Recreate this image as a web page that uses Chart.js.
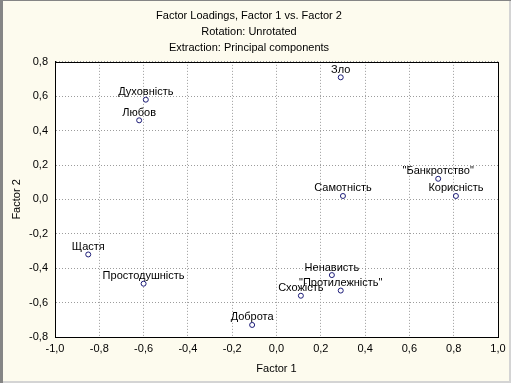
<!DOCTYPE html>
<html>
<head>
<meta charset="utf-8">
<script src="https://cdn.jsdelivr.net/npm/chart.js@4"></script>
<style>
    html, body { margin: 0; padding: 0; background: #fdfbee; }
    #wrap {
        position: relative;
        width: 511px;
        height: 383px;
        background: #fdfbee;
        box-shadow: inset 3px 1px 0 #858585, inset -2px -2px 0 #d4d4d4;
    }
    #chart { position: absolute; left: 0; top: 0; }
</style>
</head>
<body>
<div id="wrap"><canvas id="chart" width="511" height="383"></canvas></div>
<script>
// factor loadings
const terms = ['Духовність', 'Любов', 'Зло', '"Банкротство"', 'Самотність', 'Корисність',
    'Щастя', 'Простодушність', 'Доброта', 'Ненависть', '"Протилежність"', 'Схожість'];
const factor1 = [-0.59, -0.62, 0.29, 0.73, 0.30, 0.81, -0.85, -0.60, -0.11, 0.25, 0.29, 0.11];
const factor2 = [0.58, 0.46, 0.71, 0.12, 0.02, 0.02, -0.32, -0.49, -0.73, -0.44, -0.53, -0.56];

const titleLines = ['Factor Loadings, Factor 1 vs. Factor 2', 'Rotation: Unrotated', 'Extraction: Principal components'];

const fontFamily = '"Liberation Sans", Arial, sans-serif';

function fmtTick(v) {
    const r = Math.round(v * 10) / 10;
    return (r === 0 ? 0 : r).toFixed(1).replace('.', ',');
}

// point names above the markers
const pointLabels = {
    id: 'pointLabels',
    afterDatasetsDraw(chart) {
        const ctx = chart.ctx;
        const meta = chart.getDatasetMeta(0);
        ctx.save();
        ctx.font = '11px ' + fontFamily;
        ctx.fillStyle = '#000';
        ctx.textAlign = 'center';
        ctx.textBaseline = 'alphabetic';
        meta.data.forEach((pt, i) => {
            ctx.fillText(terms[i], pt.x, pt.y - 4.5);
        });
        ctx.restore();
    }
};

// closed frame round the plot area
const plotFrame = {
    id: 'plotFrame',
    beforeDraw(chart) {
        const a = chart.chartArea;
        const ctx = chart.ctx;
        ctx.save();
        ctx.fillStyle = '#ffffff';
        ctx.fillRect(a.left, a.top, a.right - a.left, a.bottom - a.top);
        ctx.restore();
    },
    afterDraw(chart) {
        const a = chart.chartArea;
        const ctx = chart.ctx;
        ctx.save();
        ctx.strokeStyle = '#000';
        ctx.lineWidth = 1;
        ctx.strokeRect(Math.round(a.left) + 0.5, Math.round(a.top) + 0.5,
            Math.round(a.right - a.left), Math.round(a.bottom - a.top));
        ctx.restore();
    }
};

const gridOpts = {
    color: '#9c9c9c',
    lineWidth: 1,
    drawTicks: false
};

// in v4 the dash of the grid lines sits under border
const borderOpts = { color: '#000', width: 1, display: true, dash: [1, 2], dashOffset: 0 };

new Chart(document.getElementById('chart'), {
    type: 'scatter',
    data: {
        datasets: [{
            data: factor1.map((x, i) => ({ x: x, y: factor2[i] })),
            pointStyle: 'circle',
            pointRadius: 2.5,
            pointHoverRadius: 2.5,
            borderColor: '#1c1c78',
            backgroundColor: '#ffffff',
            borderWidth: 1
        }]
    },
    options: {
        responsive: false,
        animation: false,
        layout: { padding: { left: 0, right: 13, top: 0, bottom: 0 } },
        plugins: {
            legend: { display: false },
            tooltip: { enabled: false },
            title: {
                display: true,
                text: titleLines,
                color: '#000',
                font: { family: fontFamily, size: 11, weight: 'normal', lineHeight: 1.45 },
                padding: { top: 8, bottom: 6 }
            }
        },
        scales: {
            x: {
                type: 'linear',
                min: -1,
                max: 1,
                grid: gridOpts,
                border: borderOpts,
                ticks: {
                    stepSize: 0.2,
                    padding: 5,
                    color: '#000',
                    maxRotation: 0,
                    font: { family: fontFamily, size: 11 },
                    callback: v => fmtTick(v)
                },
                title: {
                    display: true,
                    text: 'Factor 1',
                    color: '#000',
                    font: { family: fontFamily, size: 11 },
                    padding: { top: 0, bottom: 7 }
                },
                afterFit(scale) { scale.height = 46; }
            },
            y: {
                type: 'linear',
                min: -0.8,
                max: 0.8,
                grid: gridOpts,
                border: borderOpts,
                ticks: {
                    stepSize: 0.2,
                    padding: 7,
                    color: '#000',
                    font: { family: fontFamily, size: 11 },
                    callback: v => fmtTick(v)
                },
                title: {
                    display: true,
                    text: 'Factor 2',
                    color: '#000',
                    font: { family: fontFamily, size: 11 },
                    padding: { top: 10, bottom: 0 }
                },
                afterFit(scale) { scale.width = 55; }
            }
        }
    },
    plugins: [plotFrame, pointLabels]
});
</script>
</body>
</html>
